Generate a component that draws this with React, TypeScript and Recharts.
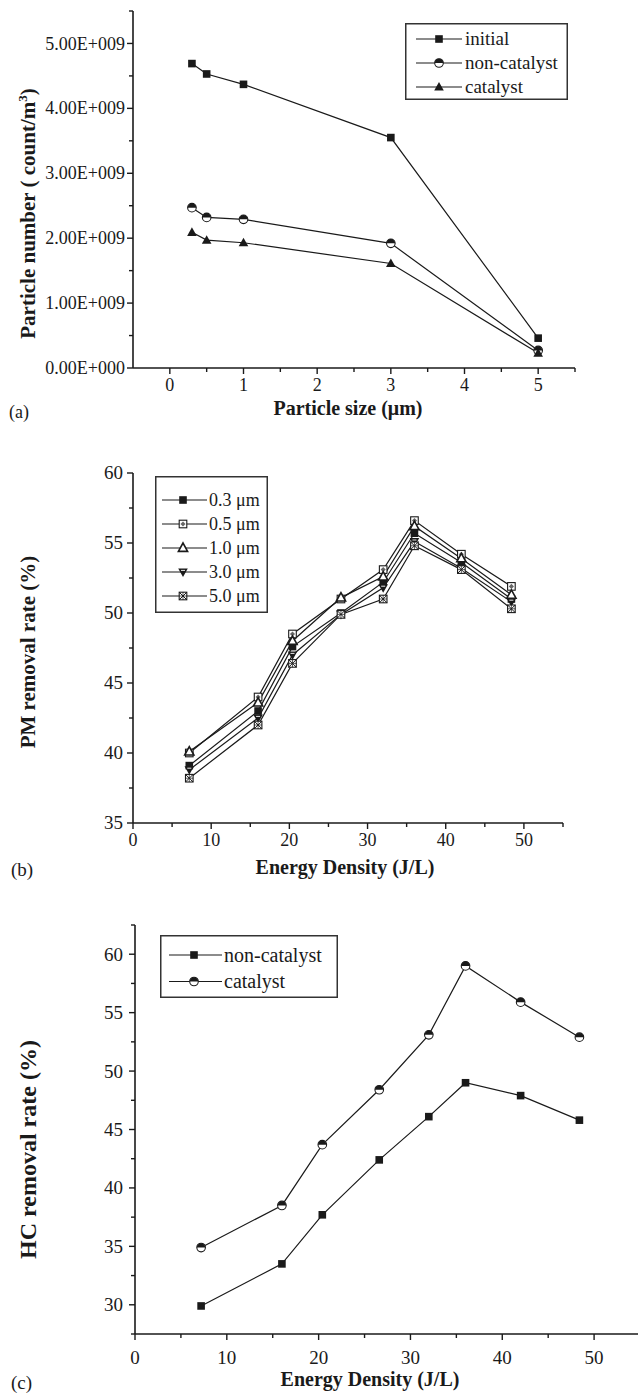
import React from 'react';
import { LineChart, Line, XAxis, YAxis, Legend, Label } from 'recharts';

const FONT = '"Liberation Serif", "Times New Roman", Times, serif';
const INK = '#1a1a1a';
const TS = 6;
const TM = 4;

// ---------- Panel (a) ----------
const sizeA = [0.3, 0.5, 1, 3, 5];
const initialA = [4.69e9, 4.53e9, 4.37e9, 3.55e9, 0.46e9];
const nonCatA = [2.47e9, 2.32e9, 2.29e9, 1.92e9, 0.27e9];
const catA = [2.09e9, 1.97e9, 1.93e9, 1.61e9, 0.23e9];
const xTicksA = [0, 0.5, 1, 1.5, 2, 2.5, 3, 3.5, 4, 4.5, 5, 5.5];
const xMajorA = [0, 1, 2, 3, 4, 5];
const yTicksA = [0, 0.5e9, 1e9, 1.5e9, 2e9, 2.5e9, 3e9, 3.5e9, 4e9, 4.5e9, 5e9, 5.5e9];
const yMajorA = [0, 1e9, 2e9, 3e9, 4e9, 5e9];
const seriesA = [
  { key: 'initial', name: 'initial', marker: 'square' },
  { key: 'nonCatalyst', name: 'non-catalyst', marker: 'halfCircle' },
  { key: 'catalyst', name: 'catalyst', marker: 'triUp' },
];

// ---------- Panel (b) ----------
const energyB = [7.2, 16, 20.4, 26.6, 32, 36, 42, 48.4];
const pm03 = [39.1, 43.0, 47.6, 50.0, 52.2, 55.7, 53.6, 51.0];
const pm05 = [40.0, 44.0, 48.5, 51.0, 53.1, 56.6, 54.2, 51.9];
const pm10 = [40.1, 43.6, 48.0, 51.1, 52.6, 56.2, 53.9, 51.3];
const pm30 = [38.8, 42.5, 47.0, 49.9, 51.8, 55.1, 53.2, 50.8];
const pm50 = [38.2, 42.0, 46.4, 49.9, 51.0, 54.8, 53.1, 50.3];
const xTicksB = [0, 5, 10, 15, 20, 25, 30, 35, 40, 45, 50, 55];
const xMajorB = [0, 10, 20, 30, 40, 50];
const yTicksB = [35, 37.5, 40, 42.5, 45, 47.5, 50, 52.5, 55, 57.5, 60];
const yMajorB = [35, 40, 45, 50, 55, 60];
const seriesB = [
  { key: 'p03', name: '0.3 μm', marker: 'square' },
  { key: 'p05', name: '0.5 μm', marker: 'dotSquare' },
  { key: 'p10', name: '1.0 μm', marker: 'openTriUp' },
  { key: 'p30', name: '3.0 μm', marker: 'triDown' },
  { key: 'p50', name: '5.0 μm', marker: 'xSquare' },
];

// ---------- Panel (c) ----------
const energyC = [7.2, 16, 20.4, 26.6, 32, 36, 42, 48.4];
const hcNonCat = [29.9, 33.5, 37.7, 42.4, 46.1, 49.0, 47.9, 45.8];
const hcCat = [34.9, 38.5, 43.7, 48.4, 53.1, 59.0, 55.9, 52.9];
const xTicksC = [0, 5, 10, 15, 20, 25, 30, 35, 40, 45, 50, 55];
const xMajorC = [0, 10, 20, 30, 40, 50];
const yTicksC = [27.5, 30, 32.5, 35, 37.5, 40, 42.5, 45, 47.5, 50, 52.5, 55, 57.5, 60, 62.5];
const yMajorC = [30, 35, 40, 45, 50, 55, 60];
const seriesC = [
  { key: 'nonCatalyst', name: 'non-catalyst', marker: 'square' },
  { key: 'catalyst', name: 'catalyst', marker: 'halfCircle' },
];

const dataA = sizeA.map((x, i) => ({ x, initial: initialA[i], nonCatalyst: nonCatA[i], catalyst: catA[i] }));
const dataB = energyB.map((x, i) => ({ x, p03: pm03[i], p05: pm05[i], p10: pm10[i], p30: pm30[i], p50: pm50[i] }));
const dataC = energyC.map((x, i) => ({ x, nonCatalyst: hcNonCat[i], catalyst: hcCat[i] }));

const near = (a: number, b: number) => Math.abs(a - b) < 1e-6 * Math.max(1, Math.abs(b));

function renderMarker(kind: string, cx: number, cy: number, key?: any) {
  const s = 3.8;
  switch (kind) {
    case 'square':
      return <rect key={key} x={cx - s} y={cy - s} width={2 * s} height={2 * s} fill={INK} />;
    case 'halfCircle':
      return (
        <g key={key}>
          <circle cx={cx} cy={cy} r={4.3} fill="#fff" stroke={INK} strokeWidth={1.1} />
          <path d={`M${cx - 4.3},${cy} A4.3,4.3 0 0 1 ${cx + 4.3},${cy} Z`} fill={INK} />
        </g>
      );
    case 'triUp':
      return <polygon key={key} points={`${cx},${cy - 5} ${cx - 4.8},${cy + 3.6} ${cx + 4.8},${cy + 3.6}`} fill={INK} />;
    case 'openTriUp':
      return (
        <polygon key={key} points={`${cx},${cy - 5} ${cx - 4.6},${cy + 3.4} ${cx + 4.6},${cy + 3.4}`} fill="#fff" stroke={INK} strokeWidth={1.6} />
      );
    case 'triDown':
      return (
        <g key={key}>
          <polygon points={`${cx},${cy + 5} ${cx - 4.8},${cy - 3.6} ${cx + 4.8},${cy - 3.6}`} fill={INK} />
          <line x1={cx - 2} x2={cx + 2} y1={cy - 1.6} y2={cy - 1.6} stroke="#fff" strokeWidth={0.9} />
        </g>
      );
    case 'dotSquare':
      return (
        <g key={key}>
          <rect x={cx - s} y={cy - s} width={2 * s} height={2 * s} fill="#fff" stroke={INK} strokeWidth={1.1} />
          <rect x={cx - 1.8} y={cy - 1.8} width={3.6} height={3.6} fill="#666" transform={`rotate(45 ${cx} ${cy})`} />
        </g>
      );
    case 'xSquare':
      return (
        <g key={key}>
          <rect x={cx - s} y={cy - s} width={2 * s} height={2 * s} fill="#fff" stroke={INK} strokeWidth={1.1} />
          <line x1={cx - s} y1={cy - s} x2={cx + s} y2={cy + s} stroke={INK} strokeWidth={1} />
          <line x1={cx - s} y1={cy + s} x2={cx + s} y2={cy - s} stroke={INK} strokeWidth={1} />
          <line x1={cx - s} y1={cy} x2={cx + s} y2={cy} stroke={INK} strokeWidth={0.7} />
          <line x1={cx} y1={cy - s} x2={cx} y2={cy + s} stroke={INK} strokeWidth={0.7} />
        </g>
      );
    default:
      return <circle key={key} cx={cx} cy={cy} r={3} fill={INK} />;
  }
}

function makeXTick(majors: number[], fmt: (v: number) => string, fontSize: number, gap: number) {
  return (props: any) => {
    const { x, y, payload } = props;
    const ay = y - TS - TM;
    const major = majors.some((m) => near(m, payload.value));
    return (
      <g>
        <line x1={x} x2={x} y1={ay} y2={ay + (major ? 6 : 4)} stroke={INK} strokeWidth={1.4} />
        {major && (
          <text x={x} y={ay + gap} dy="0.71em" textAnchor="middle" fontSize={fontSize} fontFamily={FONT} fill={INK}>
            {fmt(payload.value)}
          </text>
        )}
      </g>
    );
  };
}

function makeYTick(majors: number[], fmt: (v: number) => string, fontSize: number, gap: number) {
  return (props: any) => {
    const { x, y, payload } = props;
    const ax = x + TS + TM;
    const major = majors.some((m) => near(m, payload.value));
    return (
      <g>
        <line x1={ax} x2={ax - (major ? 6 : 4)} y1={y} y2={y} stroke={INK} strokeWidth={1.4} />
        {major && (
          <text x={ax - gap} y={y} dy="0.34em" textAnchor="end" fontSize={fontSize} fontFamily={FONT} fill={INK}>
            {fmt(payload.value)}
          </text>
        )}
      </g>
    );
  };
}

type LegendCfg = {
  items: { name: string; marker: string }[];
  width: number;
  height: number;
  firstRow: number;
  rowGap: number;
  lineX1: number;
  lineX2: number;
  markerX: number;
  textX: number;
  fontSize: number;
};

function makeLegend(cfg: LegendCfg) {
  return () => (
    <svg width={cfg.width} height={cfg.height} style={{ display: 'block' }}>
      <rect x={0.75} y={0.75} width={cfg.width - 1.5} height={cfg.height - 1.5} fill="#fff" stroke="#333" strokeWidth={1.5} />
      {cfg.items.map((it, i) => {
        const cy = cfg.firstRow + i * cfg.rowGap;
        return (
          <g key={it.name}>
            <line x1={cfg.lineX1} x2={cfg.lineX2} y1={cy} y2={cy} stroke={INK} strokeWidth={1.2} />
            {renderMarker(it.marker, cfg.markerX, cy)}
            <text x={cfg.textX} y={cy} dy="0.33em" fontSize={cfg.fontSize} fontFamily={FONT} fill={INK}>
              {it.name}
            </text>
          </g>
        );
      })}
    </svg>
  );
}

const fmtA = (v: number) => (v === 0 ? '0.00E+000' : `${(v / 1e9).toFixed(2)}E+009`);
const fmtN = (v: number) => String(v);

const axisLineStyle = { stroke: INK, strokeWidth: 1.6 };

export default function App() {
  return (
    <div style={{ position: 'absolute', left: 0, top: 0, width: 638, height: 1394, overflow: 'hidden', background: '#fff' }}>
      {/* Panel (a) */}
      <div style={{ position: 'absolute', left: 0, top: 0 }}>
        <LineChart width={638} height={430} data={dataA} margin={{ top: 11, right: 63, bottom: 22, left: 0 }}>
          <XAxis
            type="number"
            dataKey="x"
            domain={[-0.5, 5.5]}
            ticks={xTicksA}
            interval={0}
            allowDataOverflow
            height={40}
            tickSize={TS}
            tickMargin={TM}
            tickLine={false}
            axisLine={axisLineStyle}
            tick={makeXTick(xMajorA, fmtN, 18, 10)}
          >
            <Label
              content={(p: any) => {
                const vb = p.viewBox || { x: 133, y: 368, width: 442 };
                return (
                  <g>
                    <text x={vb.x + vb.width / 2 - 6} y={vb.y + 40} dy="0.35em" textAnchor="middle" fontSize={20} fontWeight="bold" fontFamily={FONT} fill={INK}>
                      Particle size (μm)
                    </text>
                    <text x={9} y={vb.y + 44} dy="0.35em" fontSize={18} fontFamily={FONT} fill={INK}>
                      (a)
                    </text>
                  </g>
                );
              }}
            />
          </XAxis>
          <YAxis
            type="number"
            domain={[0, 5.5e9]}
            ticks={yTicksA}
            interval={0}
            allowDataOverflow
            width={133}
            tickSize={TS}
            tickMargin={TM}
            tickLine={false}
            axisLine={axisLineStyle}
            tick={makeYTick(yMajorA, fmtA, 18, 8)}
          >
            <Label
              content={(p: any) => {
                const vb = p.viewBox || { y: 11, height: 357 };
                const cx = 28;
                const cy = vb.y + vb.height / 2 + 24;
                return (
                  <text transform={`rotate(-90 ${cx} ${cy})`} x={cx} y={cy} dy="0.35em" textAnchor="middle" fontSize={21} fontWeight="bold" fontFamily={FONT} fill={INK}>
                    Particle number ( count/m
                    <tspan dy={-8} fontSize={13}>3</tspan>
                    <tspan dy={8}>)</tspan>
                  </text>
                );
              }}
            />
          </YAxis>
          <Legend
            layout="vertical"
            align="center"
            verticalAlign="middle"
            wrapperStyle={{ left: 405, top: 23, width: 163, height: 77 }}
            content={makeLegend({
              items: seriesA,
              width: 163,
              height: 77,
              firstRow: 16,
              rowGap: 24,
              lineX1: 11,
              lineX2: 57,
              markerX: 34,
              textX: 60,
              fontSize: 19,
            })}
          />
          {seriesA.map((s) => (
            <Line
              key={s.key}
              type="linear"
              dataKey={s.key}
              name={s.name}
              stroke={INK}
              strokeWidth={1.2}
              isAnimationActive={false}
              activeDot={false}
              dot={(p: any) => renderMarker(s.marker, p.cx, p.cy, `${s.key}-${p.index}`)}
            />
          ))}
        </LineChart>
      </div>

      {/* Panel (b) */}
      <div style={{ position: 'absolute', left: 0, top: 430 }}>
        <LineChart width={638} height={460} data={dataB} margin={{ top: 43, right: 75, bottom: 27, left: 0 }}>
          <XAxis
            type="number"
            dataKey="x"
            domain={[0, 55]}
            ticks={xTicksB}
            interval={0}
            allowDataOverflow
            height={40}
            tickSize={TS}
            tickMargin={TM}
            tickLine={false}
            axisLine={axisLineStyle}
            tick={makeXTick(xMajorB, fmtN, 18, 10)}
          >
            <Label
              content={(p: any) => {
                const vb = p.viewBox || { x: 133, y: 393, width: 430 };
                return (
                  <g>
                    <text x={vb.x + vb.width / 2 - 3} y={vb.y + 44} dy="0.35em" textAnchor="middle" fontSize={20} fontWeight="bold" fontFamily={FONT} fill={INK}>
                      Energy Density (J/L)
                    </text>
                    <text x={11} y={vb.y + 46} dy="0.35em" fontSize={19} fontFamily={FONT} fill={INK}>
                      (b)
                    </text>
                  </g>
                );
              }}
            />
          </XAxis>
          <YAxis
            type="number"
            domain={[35, 60]}
            ticks={yTicksB}
            interval={0}
            allowDataOverflow
            width={133}
            tickSize={TS}
            tickMargin={TM}
            tickLine={false}
            axisLine={axisLineStyle}
            tick={makeYTick(yMajorB, fmtN, 19, 10)}
          >
            <Label
              content={(p: any) => {
                const vb = p.viewBox || { y: 43, height: 350 };
                const cx = 28;
                const cy = vb.y + vb.height / 2 + 4;
                return (
                  <text transform={`rotate(-90 ${cx} ${cy})`} x={cx} y={cy} dy="0.35em" textAnchor="middle" fontSize={21} fontWeight="bold" fontFamily={FONT} fill={INK}>
                    PM removal rate (%)
                  </text>
                );
              }}
            />
          </YAxis>
          <Legend
            layout="vertical"
            align="center"
            verticalAlign="middle"
            wrapperStyle={{ left: 155, top: 46, width: 113, height: 137 }}
            content={makeLegend({
              items: seriesB,
              width: 113,
              height: 137,
              firstRow: 24,
              rowGap: 24,
              lineX1: 7,
              lineX2: 52,
              markerX: 28,
              textX: 54,
              fontSize: 18,
            })}
          />
          {seriesB.map((s) => (
            <Line
              key={s.key}
              type="linear"
              dataKey={s.key}
              name={s.name}
              stroke={INK}
              strokeWidth={1.2}
              isAnimationActive={false}
              activeDot={false}
              dot={(p: any) => renderMarker(s.marker, p.cx, p.cy, `${s.key}-${p.index}`)}
            />
          ))}
        </LineChart>
      </div>

      {/* Panel (c) */}
      <div style={{ position: 'absolute', left: 0, top: 890 }}>
        <LineChart width={640} height={504} data={dataC} margin={{ top: 35, right: 0, bottom: 20, left: 0 }}>
          <XAxis
            type="number"
            dataKey="x"
            domain={[0, 55]}
            ticks={xTicksC}
            interval={0}
            allowDataOverflow
            height={40}
            tickSize={TS}
            tickMargin={TM}
            tickLine={false}
            axisLine={axisLineStyle}
            tick={makeXTick(xMajorC, fmtN, 19, 17)}
          >
            <Label
              content={(p: any) => {
                const vb = p.viewBox || { x: 135, y: 444, width: 505 };
                return (
                  <g>
                    <text x={vb.x + 235} y={vb.y + 45} dy="0.35em" textAnchor="middle" fontSize={20} fontWeight="bold" fontFamily={FONT} fill={INK}>
                      Energy Density (J/L)
                    </text>
                    <text x={11} y={vb.y + 48} dy="0.35em" fontSize={19} fontFamily={FONT} fill={INK}>
                      (c)
                    </text>
                  </g>
                );
              }}
            />
          </XAxis>
          <YAxis
            type="number"
            domain={[27.5, 62.5]}
            ticks={yTicksC}
            interval={0}
            allowDataOverflow
            width={135}
            tickSize={TS}
            tickMargin={TM}
            tickLine={false}
            axisLine={axisLineStyle}
            tick={makeYTick(yMajorC, fmtN, 19, 12)}
          >
            <Label
              content={(p: any) => {
                const vb = p.viewBox || { y: 35, height: 409 };
                const cx = 28;
                const cy = vb.y + vb.height / 2 + 20;
                return (
                  <text transform={`rotate(-90 ${cx} ${cy})`} x={cx} y={cy} dy="0.35em" textAnchor="middle" fontSize={24} fontWeight="bold" fontFamily={FONT} fill={INK}>
                    HC removal rate (%)
                  </text>
                );
              }}
            />
          </YAxis>
          <Legend
            layout="vertical"
            align="center"
            verticalAlign="middle"
            wrapperStyle={{ left: 160, top: 45, width: 178, height: 63 }}
            content={makeLegend({
              items: seriesC,
              width: 178,
              height: 63,
              firstRow: 20,
              rowGap: 26.5,
              lineX1: 9,
              lineX2: 62,
              markerX: 34,
              textX: 64,
              fontSize: 20,
            })}
          />
          {seriesC.map((s) => (
            <Line
              key={s.key}
              type="linear"
              dataKey={s.key}
              name={s.name}
              stroke={INK}
              strokeWidth={1.2}
              isAnimationActive={false}
              activeDot={false}
              dot={(p: any) => renderMarker(s.marker, p.cx, p.cy, `${s.key}-${p.index}`)}
            />
          ))}
        </LineChart>
      </div>
    </div>
  );
}
